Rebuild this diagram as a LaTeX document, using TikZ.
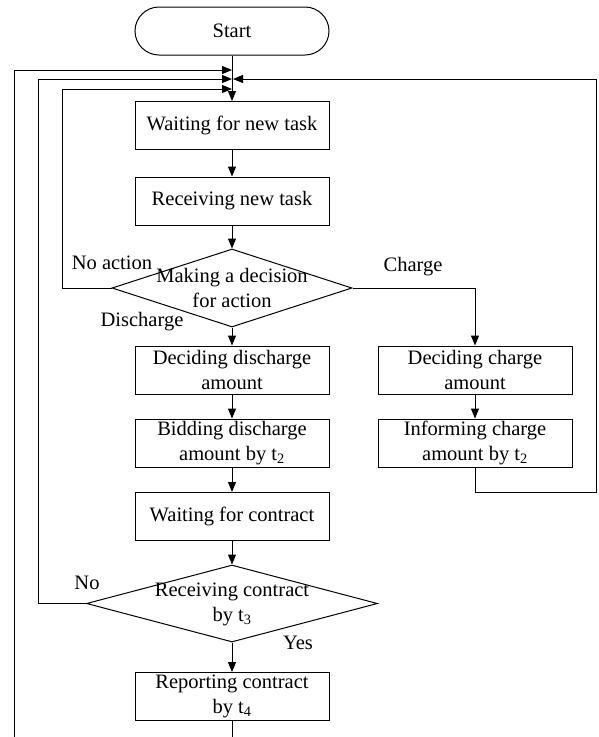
\documentclass[tikz,border=0pt]{standalone}
\usepackage{fontspec}
\setmainfont{Liberation Serif}
\usetikzlibrary{arrows.meta,shapes.geometric}
\tikzset{
  base/.style={font=\fontsize{20.5}{25}\selectfont},
  procbox/.style={base,draw,line width=1pt,minimum width=194pt,minimum height=48pt,align=center,inner sep=0pt},
  termbox/.style={procbox,rounded corners=24pt},
  decshape/.style={draw,line width=1pt,shape=diamond,inner sep=0pt,aspect=1},
  dectext/.style={base,align=center,inner sep=0pt},
  lbl/.style={base,inner sep=0pt},
  conn/.style={line width=1pt},
  flow/.style={conn,-{Triangle[length=10pt,width=8pt]}}
}
\begin{document}
\begin{tikzpicture}[x=1pt,y=-1pt]
\useasboundingbox (0,0) rectangle (598,737);
\node[termbox] (start) at (232,31) {Start};
\node[procbox] (wnt) at (232,125.5) {Waiting for new task};
\node[procbox] (rnt) at (232,201) {Receiving new task};
\node[decshape,minimum width=240pt,minimum height=78pt] (dec) at (232,288) {};
\node[dectext] (dect) at (232,288) {Making a decision\\for action};
\node[procbox] (dd) at (232,370) {Deciding discharge\\amount};
\node[procbox] (bd) at (232,443) {Bidding discharge\\amount by t\textsubscript{2}};
\node[procbox] (wc) at (232,516.5) {Waiting for contract};
\node[decshape,minimum width=291pt,minimum height=77pt] (rc) at (232,603.5) {};
\node[dectext] (rct) at (232,604) {Receiving contract\\by t\textsubscript{3}};
\node[procbox] (rep) at (232,696.5) {Reporting contract\\by t\textsubscript{4}};
\node[procbox] (dc) at (475,370) {Deciding charge\\amount};
\node[procbox] (ic) at (475,443) {Informing charge\\amount by t\textsubscript{2}};

\coordinate (j1) at (232,70);
\coordinate (j2) at (232,79);
\coordinate (j2r) at (233,79);
\coordinate (j3) at (232,89);
\coordinate (bend) at (232,737);
\coordinate (lend) at (14,737);

\node[lbl] (lna) at (112,263) {No action};
\node[lbl] (lch) at (413,267) {Charge};
\node[lbl] (ldis) at (142,322) {Discharge};
\node[lbl] (lno) at (87,583) {No};
\node[lbl] (lyes) at (298,643) {Yes};

\draw[flow] (start) -- (wnt);
\draw[flow] (wnt) -- (rnt);
\draw[flow] (rnt) -- (dec.north);
\draw[flow] (dec.south) -- (dd);
\draw[flow] (dd) -- (bd);
\draw[flow] (bd) -- (wc);
\draw[flow] (wc) -- (rc.north);
\draw[flow] (rc.south) -- (rep);
\draw[flow] (dec.east) -| (dc.north);
\draw[flow] (dc) -- (ic);
\draw[conn] (rep.south) -- (bend);
\draw[flow] (dec.west) -- (62,288) |- (j3);
\draw[flow] (rc.west) -- (38,603.5) |- (j2);
\draw[flow] (lend) |- (j1);
\draw[flow] (ic.south) |- (596,492) |- (j2r);
\end{tikzpicture}
\end{document}
